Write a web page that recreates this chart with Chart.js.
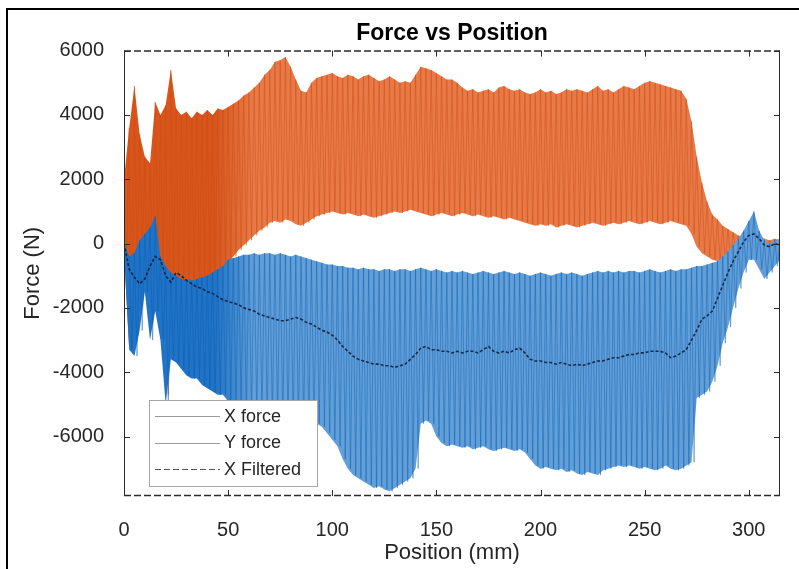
<!DOCTYPE html>
<html>
<head>
<meta charset="utf-8">
<script src="https://cdn.jsdelivr.net/npm/chart.js@4.4.1/dist/chart.umd.min.js"></script>
<style>
  html, body { margin: 0; padding: 0; background: #fff; overflow: hidden; }
  #wrap { width: 799px; height: 569px; position: relative; }
</style>
</head>
<body>
<div id="wrap"><canvas id="forceChart" width="799" height="569"></canvas></div>
<script>
// sample spacing along the travel (mm); each sample is one peak and one trough
const step = 2.5;
const xTicks = [0, 50, 100, 150, 200, 250, 300];
const yTicks = [-6000, -4000, -2000, 0, 2000, 4000, 6000];

// X force: peak and trough of each oscillation (N)
const xForceHigh = [
  0, -400, -300, 100, 300, 500, 850, -400, -700, -900,
  -1000, -1100, -1100, -1150, -1100, -1050, -1000, -900, -800, -700,
  -500, -450, -400, -350, -350, -300, -350, -300, -300, -350,
  -300, -350, -400, -350, -400, -450, -500, -550, -600, -650,
  -650, -700, -700, -750, -750, -800, -750, -800, -800, -850,
  -800, -800, -850, -800, -800, -850, -800, -750, -800, -850,
  -800, -850, -900, -850, -900, -850, -900, -950, -900, -850,
  -900, -950, -900, -850, -900, -950, -900, -950, -1000, -950,
  -900, -950, -1000, -950, -900, -950, -900, -950, -1000, -950,
  -900, -850, -900, -850, -900, -850, -900, -850, -850, -900,
  -850, -800, -850, -900, -850, -800, -850, -800, -800, -750,
  -700, -700, -650, -600, -550, -400, -250, -50, 150, 400,
  700, 1000, 400, 100, 0, 100, 150
];
const xForceLow = [
  -300, -3300, -3500, -2700, -1500, -3000, -2100, -3000, -5000, -3600,
  -3700, -3900, -4100, -4200, -4200, -4400, -4500, -4600, -4700, -4700,
  -4900, -5000, -5100, -5200, -5300, -5300, -5400, -5450, -5500, -5500,
  -5550, -5600, -5600, -5650, -5700, -5700, -5700, -5600, -5700, -5900,
  -6100, -6300, -6700, -7000, -7200, -7300, -7400, -7500, -7600, -7550,
  -7650, -7700, -7600, -7500, -7400, -7300, -7000, -5600, -5500, -5600,
  -6000, -6200, -6300, -6250, -6300, -6350, -6300, -6400, -6350, -6300,
  -6400, -6450, -6400, -6350, -6400, -6450, -6400, -6500, -6700, -6900,
  -7000, -6950, -7000, -7050, -7000, -7100, -7050, -7150, -7200, -7100,
  -7150, -7200, -7050, -7000, -6950, -6900, -6950, -6900, -6950, -7000,
  -6950, -7000, -7050, -7000, -6900, -7000, -7050, -7000, -6900, -6800,
  -4800, -4700, -4600, -4300, -3800, -3100, -2600, -2000, -1400, -900,
  -500, -500, -800, -1100, -900, -700, -500
];

// Y force: peak and trough of each oscillation (N)
const yForceHigh = [
  2000, 3600, 4900, 3400, 2700, 2500, 4400, 4000, 4300, 5400,
  4200, 4000, 4100, 3900, 4100, 4000, 4150, 4000, 4200, 4150,
  4250, 4350, 4450, 4600, 4700, 4850, 5000, 5250, 5400, 5650,
  5700, 5800, 5500, 5100, 4750, 4700, 5000, 5150, 5200, 5250,
  5300, 5200, 5150, 5250, 5200, 5100, 5200, 5250, 5150, 5050,
  5100, 5200, 5100, 5000, 5050, 5000, 5250, 5500, 5450, 5400,
  5300, 5200, 5100, 5100, 5000, 4850, 4750, 4800, 4700, 4750,
  4800, 4700, 4850, 4900, 4800, 4750, 4800, 4700, 4650, 4700,
  4800, 4700, 4750, 4650, 4700, 4800, 4750, 4800, 4750, 4700,
  4800, 4900, 4750, 4800, 4700, 4800, 4900, 4850, 4800, 4900,
  5000, 5050, 5000, 4950, 4900, 4850, 4800, 4750, 4500, 3800,
  2700, 1900, 1300, 900, 750, 550, 450, 350, 250, 200,
  300, 450, 250, 150, 100, 150, 100
];
const yForceLow = [
  -300, -3300, -900, -700, -600, -800, -500, -900, -4700, -1300,
  -1200, -1300, -1400, -1300, -1350, -1200, -1300, -1250, -1100, -900,
  -600, -400, -200, -50, 100, 250, 400, 500, 650, 700,
  650, 750, 700, 600, 550, 650, 750, 850, 900, 950,
  1000, 950, 900, 950, 900, 850, 900, 850, 800, 850,
  900, 950, 1000, 950, 1000, 1050, 1000, 950, 900, 850,
  900, 950, 900, 850, 900, 950, 900, 850, 900, 850,
  800, 850, 800, 750, 800, 750, 700, 650, 600, 550,
  600, 550, 600, 500, 550, 600, 550, 500, 550, 600,
  650, 600, 550, 600, 650, 600, 650, 700, 650, 600,
  650, 700, 650, 600, 650, 700, 650, 600, 550, 300,
  -100, -300, -400, -500, -550, -600, -500, -350, -150, 0,
  100, 50, -250, -350, -400, -350, -300
];

// low-pass filtered X force (N)
const xFiltered = [
  0, -800, -1050, -1250, -1100, -700, -400, -500, -1000, -1200,
  -900, -1000, -1150, -1250, -1350, -1400, -1500, -1550, -1650, -1750,
  -1800, -1850, -1900, -2000, -2050, -2100, -2200, -2250, -2300, -2350,
  -2400, -2400, -2350, -2300, -2350, -2450, -2500, -2600, -2700, -2750,
  -2850, -3000, -3200, -3350, -3500, -3600, -3650, -3700, -3750, -3750,
  -3800, -3800, -3850, -3800, -3750, -3600, -3450, -3250, -3200, -3300,
  -3300, -3350, -3350, -3400, -3350, -3400, -3350, -3350, -3400, -3300,
  -3200, -3350, -3400, -3350, -3400, -3300, -3250, -3400, -3600, -3650,
  -3650, -3700, -3700, -3750, -3700, -3750, -3800, -3750, -3800, -3750,
  -3700, -3650, -3650, -3600, -3550, -3550, -3500, -3450, -3450, -3400,
  -3400, -3350, -3350, -3350, -3400, -3550, -3500, -3400, -3300, -3000,
  -2700, -2350, -2250, -2100, -1700, -1300, -900, -550, -250, 50,
  250, 300, 150, -50, -100, 0, -50
];

const position = xForceHigh.map((_, i) => i * step);

// peak at each sample, trough half a step later
function zigzag(high, low) {
  const pts = [];
  high.forEach((h, i) => {
    pts.push({ x: position[i], y: h });
    pts.push({ x: position[i] + step / 2, y: low[i] });
  });
  return pts;
}
const asPoints = arr => arr.map((v, i) => ({ x: position[i], y: v }));

// dense start of the run reads darker than the rest of the band
function bandFill(dark, light) {
  return ctx => {
    const { chart } = ctx;
    const area = chart.chartArea;
    if (!area) return light;
    const xs = chart.scales.x;
    const x0 = xs.getPixelForValue(0);
    const x1 = xs.getPixelForValue(62);
    const g = chart.ctx.createLinearGradient(x0, 0, x1, 0);
    g.addColorStop(0, dark);
    g.addColorStop(0.7, dark);
    g.addColorStop(1, light);
    return g;
  };
}

const fontFamily = '"Liberation Sans", Arial, Helvetica, sans-serif';
Chart.defaults.font.family = fontFamily;
Chart.defaults.color = '#262626';

// axes box: solid sides, dashed top/bottom, inward ticks, legend, figure frame
const axesBox = {
  id: 'axesBox',
  afterDatasetsDraw(chart) {
    const { ctx, chartArea: { left, right, top, bottom }, scales: { x, y } } = chart;
    ctx.save();
    ctx.strokeStyle = '#2b2b2b';
    ctx.lineWidth = 1;
    ctx.beginPath();
    ctx.moveTo(left + 0.5, top); ctx.lineTo(left + 0.5, bottom);
    ctx.moveTo(right - 0.5, top); ctx.lineTo(right - 0.5, bottom);
    ctx.stroke();
    ctx.lineWidth = 1.5;
    ctx.setLineDash([7, 3]);
    ctx.beginPath();
    ctx.moveTo(left, top + 0.5); ctx.lineTo(right, top + 0.5);
    ctx.moveTo(left, bottom - 0.5); ctx.lineTo(right, bottom - 0.5);
    ctx.stroke();
    ctx.setLineDash([]);
    ctx.lineWidth = 1;
    ctx.beginPath();
    xTicks.forEach(t => {
      const px = Math.round(x.getPixelForValue(t)) + 0.5;
      ctx.moveTo(px, top); ctx.lineTo(px, top + 6);
      ctx.moveTo(px, bottom); ctx.lineTo(px, bottom - 6);
    });
    yTicks.forEach(t => {
      const py = Math.round(y.getPixelForValue(t)) + 0.5;
      ctx.moveTo(left, py); ctx.lineTo(left + 6, py);
      ctx.moveTo(right, py); ctx.lineTo(right - 6, py);
    });
    ctx.stroke();
    ctx.restore();
  },
  afterDraw(chart) {
    const { ctx } = chart;
    ctx.save();
    ctx.strokeStyle = '#000';
    ctx.lineWidth = 2;
    ctx.beginPath();
    ctx.moveTo(7, 569); ctx.lineTo(7, 9); ctx.lineTo(799, 9);
    ctx.stroke();

    const box = { left: 149, top: 400, right: 318, bottom: 487 };
    ctx.fillStyle = '#fff';
    ctx.fillRect(box.left, box.top, box.right - box.left, box.bottom - box.top);
    ctx.strokeStyle = '#a6a6a6';
    ctx.lineWidth = 1;
    ctx.strokeRect(box.left + 0.5, box.top + 0.5, box.right - box.left - 1, box.bottom - box.top - 1);
    const items = [
      { text: 'X force', color: '#9a9a9a', dash: [] },
      { text: 'Y force', color: '#9a9a9a', dash: [] },
      { text: 'X Filtered', color: '#555', dash: [6, 3] }
    ];
    ctx.font = '18px ' + fontFamily;
    ctx.textBaseline = 'middle';
    ctx.textAlign = 'left';
    items.forEach((it, i) => {
      const ly = 416 + i * 26.5;
      ctx.strokeStyle = it.color;
      ctx.lineWidth = 1;
      ctx.setLineDash(it.dash);
      ctx.beginPath();
      ctx.moveTo(155, Math.round(ly) + 0.5);
      ctx.lineTo(220, Math.round(ly) + 0.5);
      ctx.stroke();
      ctx.setLineDash([]);
      ctx.fillStyle = '#262626';
      ctx.fillText(it.text, 224, ly + 1);
    });
    ctx.restore();
  }
};

new Chart(document.getElementById('forceChart'), {
  type: 'line',
  data: {
    datasets: [
      {
        label: 'X force',
        data: zigzag(xForceHigh, xForceLow),
        borderColor: 'rgba(10,95,175,0.45)',
        borderWidth: 1,
        pointRadius: 0,
        order: 2
      },
      {
        label: 'Y force',
        data: zigzag(yForceHigh, yForceLow),
        borderColor: 'rgba(205,75,20,0.45)',
        borderWidth: 1,
        pointRadius: 0,
        order: 4
      },
      {
        label: 'X Filtered',
        data: asPoints(xFiltered),
        borderColor: 'rgba(10,25,50,0.85)',
        borderWidth: 1.6,
        borderDash: [3, 2],
        pointRadius: 0,
        order: 1
      },
      {
        label: 'xHigh',
        data: asPoints(xForceHigh),
        borderWidth: 0,
        pointRadius: 0,
        order: 3
      },
      {
        label: 'xLow',
        data: asPoints(xForceLow),
        borderWidth: 0,
        pointRadius: 0,
        backgroundColor: bandFill('rgb(32,115,198)', 'rgb(98,158,216)'),
        fill: '-1',
        order: 3
      },
      {
        label: 'yHigh',
        data: asPoints(yForceHigh),
        borderWidth: 0,
        pointRadius: 0,
        order: 5
      },
      {
        label: 'yLow',
        data: asPoints(yForceLow),
        borderWidth: 0,
        pointRadius: 0,
        backgroundColor: bandFill('rgb(216,86,28)', 'rgb(232,122,72)'),
        fill: '-1',
        order: 5
      }
    ]
  },
  options: {
    responsive: false,
    animation: false,
    devicePixelRatio: 1,
    layout: { padding: { left: 0, right: 19, top: 0, bottom: 0 } },
    plugins: {
      legend: { display: false },
      tooltip: { enabled: false },
      title: {
        display: true,
        fullSize: false,
        text: 'Force vs Position',
        color: '#000',
        font: { size: 23, weight: 'bold' },
        padding: { top: 20, bottom: 3 }
      }
    },
    scales: {
      x: {
        type: 'linear',
        min: 0,
        max: 315,
        grid: { display: false },
        border: { display: false },
        afterBuildTicks: s => { s.ticks = xTicks.map(v => ({ value: v })); },
        afterFit: s => { s.height = 73; },
        ticks: { font: { size: 20 }, padding: 14, maxRotation: 0, callback: v => String(v) },
        title: {
          display: true,
          text: 'Position (mm)',
          font: { size: 22 },
          padding: { top: 0, bottom: 3 }
        }
      },
      y: {
        min: -7850,
        max: 6000,
        grid: { display: false },
        border: { display: false },
        afterBuildTicks: s => { s.ticks = yTicks.map(v => ({ value: v })); },
        afterFit: s => { s.width = 124; },
        ticks: { font: { size: 20 }, padding: 12, callback: v => String(v) },
        title: {
          display: true,
          text: 'Force (N)',
          font: { size: 22 },
          padding: { top: 20, bottom: 0 }
        }
      }
    }
  },
  plugins: [axesBox]
});
</script>
</body>
</html>
